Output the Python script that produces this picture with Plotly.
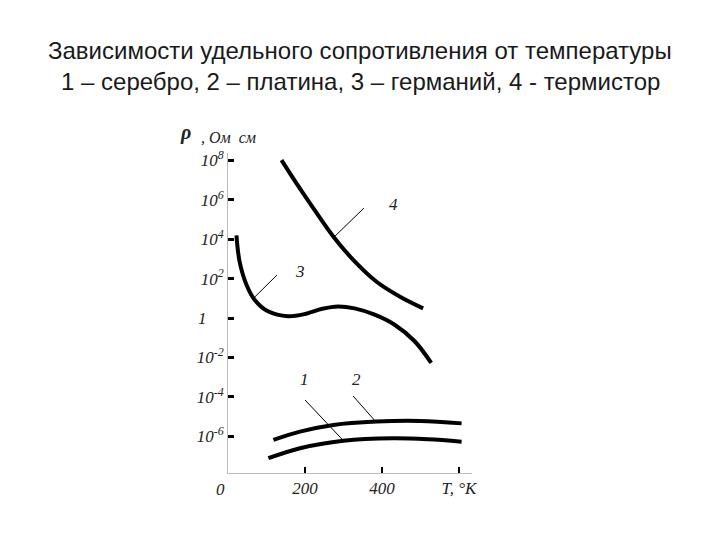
import plotly.graph_objects as go

# Temperature (K) and log10 of resistivity (Ohm*cm)
t_silver = [105, 187, 300, 429, 520, 607]
rho_silver = [-7.12, -6.61, -6.23, -6.11, -6.16, -6.28]

t_platinum = [118, 187, 274, 386, 499, 607]
rho_platinum = [-6.19, -5.77, -5.43, -5.26, -5.23, -5.35]

t_germanium = [22, 30, 48, 69, 104, 156, 203, 245, 286, 329, 381, 433, 485, 528]
rho_germanium = [4.20, 2.88, 1.69, 0.93, 0.34, 0.09, 0.22, 0.47, 0.59, 0.49, 0.17, -0.34, -1.18, -2.28]

t_thermistor = [139, 178, 222, 274, 326, 386, 447, 507]
rho_thermistor = [8.02, 6.84, 5.57, 4.13, 2.94, 1.84, 1.08, 0.49]

# curve labels with leader lines: label position, line start, line end
curve_labels = ['1', '2', '3', '4']
label_t = [200, 335, 187, 429]
label_rho = [-3.10, -3.10, 2.34, 5.79]
leader_t = [[200, 299], [325, 382], [127, 67], [353, 275]]
leader_rho = [[-4.16, -6.21], [-3.96, -5.22], [2.18, 1.02], [5.58, 4.10]]

y_ticks = [8, 6, 4, 2, 0, -2, -4, -6]
y_ticktext = ['10<sup>8</sup>', '10<sup>6</sup>', '10<sup>4</sup>', '10<sup>2</sup>', '1&nbsp;&nbsp;&nbsp;&nbsp;',
              '10<sup>-2</sup>', '10<sup>-4</sup>', '10<sup>-6</sup>']
x_ticks = [200, 400, 600]
x_ticktext = ['200', '400', 'T, °K']

fig = go.Figure()

for t, r in [(t_silver, rho_silver), (t_platinum, rho_platinum),
             (t_germanium, rho_germanium), (t_thermistor, rho_thermistor)]:
    fig.add_trace(go.Scatter(x=t, y=r, mode='lines', line=dict(color='black', width=4, shape='spline', smoothing=1.0),
                             hoverinfo='skip', showlegend=False))

# leader lines and numbers
for name, lx, ly, sx, sy in zip(curve_labels, label_t, label_rho, leader_t, leader_rho):
    fig.add_trace(go.Scatter(x=sx, y=sy, mode='lines', line=dict(color='black', width=1),
                             hoverinfo='skip', showlegend=False))
    fig.add_annotation(x=lx, y=ly, text=f'<i>{name}</i>', showarrow=False,
                       font=dict(family='Liberation Serif', size=17, color='#222'))

serif = dict(family='Liberation Serif', size=17, color='#222')

fig.update_xaxes(range=[0, 634], showline=True, linecolor='#bbbbbb', linewidth=1, showgrid=False, zeroline=False,
                 tickvals=x_ticks, ticktext=[f'<i>{s}</i>' for s in x_ticktext], ticks='inside', ticklen=6,
                 tickwidth=2, tickcolor='black', tickfont=serif)
fig.update_yaxes(range=[-7.87, 8.38], showline=True, linecolor='#bbbbbb', linewidth=1, showgrid=False, zeroline=False,
                 tickvals=y_ticks, ticktext=[f'<i>{s}</i>' for s in y_ticktext], ticks='inside', ticklen=6,
                 tickwidth=3, tickcolor='black', tickfont=serif)

# "0" at the origin and the axis name
fig.add_annotation(x=-0.029, y=-0.053, xref='paper', yref='paper', text='<i>0</i>', showarrow=False,
                   font=serif, xanchor='center', yanchor='middle')
fig.add_annotation(x=-0.176, y=1.063, xref='paper', yref='paper', text='<b><i>ρ</i></b>', showarrow=False,
                   font=dict(family='Liberation Serif', size=20, color='#222'), xanchor='center', yanchor='middle')
fig.add_annotation(x=-0.118, y=1.05, xref='paper', yref='paper', xanchor='left', yanchor='middle',
                   text='<i>, Ом&nbsp;&nbsp;см</i>', showarrow=False,
                   font=dict(family='Liberation Serif', size=16, color='#222'))

# title lines
title_font = dict(family='Liberation Sans', size=24, color='#1a1a1a')
fig.add_annotation(x=0.541, y=1.319, xref='paper', yref='paper', xanchor='center', yanchor='middle',
                   text='Зависимости удельного сопротивления от температуры', showarrow=False, font=title_font)
fig.add_annotation(x=0.541, y=1.222, xref='paper', yref='paper', xanchor='center', yanchor='middle',
                   text='1 – серебро, 2 – платина, 3 – германий, 4 - термистор', showarrow=False, font=title_font)

# the page puts the figure 8px from the window's corner, so the figure is a bit smaller than the window
fig.update_layout(width=704, height=524, margin=dict(l=220, r=240, t=145, b=59),
                  plot_bgcolor='white', paper_bgcolor='white')

fig.write_html("out.html")
